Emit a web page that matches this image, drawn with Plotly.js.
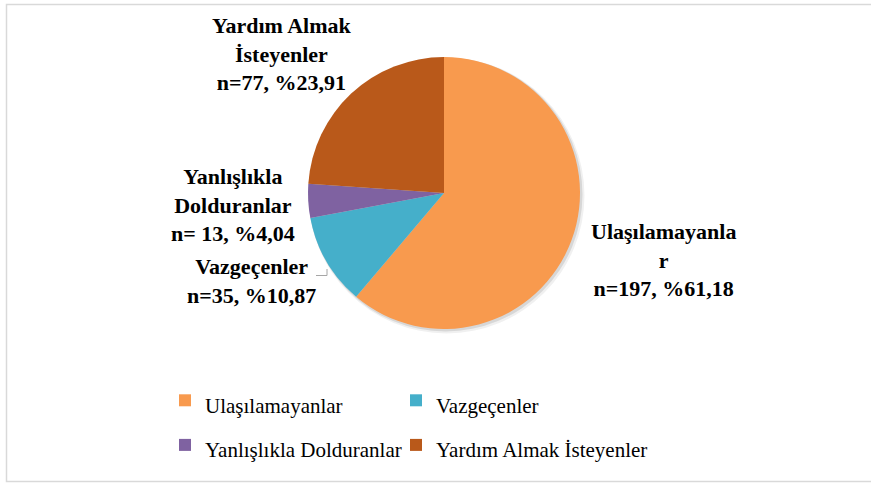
<!DOCTYPE html>
<html>
<head>
<meta charset="utf-8">
<script src="https://cdn.plot.ly/plotly-3.0.1.min.js"></script>
<style>html,body{margin:0;padding:0;background:#fff;}#chart{width:871px;height:484px;}</style>
</head>
<body>
<div id="chart"></div>
<script>
// ---- data ----
var categories = ["Ulaşılamayanlar", "Vazgeçenler", "Yanlışlıkla Dolduranlar", "Yardım Almak İsteyenler"];
var counts = [197, 35, 13, 77];
var percents = ["61,18", "10,87", "4,04", "23,91"];
// data label texts as wrapped in the original
var labelNames = ["Ulaşılamayanla<br>r", "Vazgeçenler", "Yanlışlıkla<br>Dolduranlar", "Yardım Almak<br>İsteyenler"];
var countPrefix = ["n=", "n=", "n= ", "n="];
var colors = ["#F89A4E", "#45AFCA", "#7F62A1", "#B9591A"];

// ---- layout helpers (pixel -> paper) ----
var W = 871, H = 484, ML = 150, MR = 150, MT = 0, MB = 0;
var GW = W - ML - MR, GH = H - MT - MB;
function fx(px) { return (px - ML) / GW; }
function fy(py) { return (H - MB - py) / GH; }

// label anchor positions (pixels, block centre)
var labelPos = [[663, 260], [251, 281], [233, 205], [282, 54]];

var annotations = categories.map(function (c, i) {
  return {
    xref: "paper", yref: "paper",
    x: fx(labelPos[i][0]), y: fy(labelPos[i][1]),
    xanchor: "center", yanchor: "middle", align: "center",
    showarrow: false,
    text: "<b>" + labelNames[i] + "<br>" + countPrefix[i] + counts[i] + ", %" + percents[i] + "</b>",
    font: {family: "Liberation Serif", size: 22, color: "#000"}
  };
});

var legendLabels = categories.map(function (c) {
  return '<span style="font-size:21px">' + c + '</span>';
});

var trace = {
  type: "pie",
  labels: legendLabels,
  values: counts,
  sort: false,
  direction: "clockwise",
  rotation: 0,
  textinfo: "none",
  hoverinfo: "none",
  marker: {colors: colors, line: {width: 0}},
  domain: {x: [fx(308), fx(580)], y: [fy(329), fy(57)]}
};

function circle(cx, cy, r, fill) {
  return {type: "circle", xref: "paper", yref: "paper",
    x0: fx(cx - r), x1: fx(cx + r), y0: fy(cy + r), y1: fy(cy - r),
    fillcolor: fill, line: {width: 0}, layer: "below"};
}

var layout = {
  width: W, height: H,
  margin: {l: ML, r: MR, t: MT, b: MB},
  paper_bgcolor: "#fff", plot_bgcolor: "rgba(0,0,0,0)",
  showlegend: true,
  legend: {
    orientation: "h",
    x: fx(165), xanchor: "left",
    y: fy(373), yanchor: "top",
    entrywidth: 186, entrywidthmode: "pixels",
    font: {family: "Liberation Serif", size: 32, color: "#000"},
    bgcolor: "rgba(0,0,0,0)"
  },
  annotations: annotations,
  shapes: [
    {type: "rect", xref: "paper", yref: "paper", x0: fx(6.5), x1: fx(880), y0: fy(4.5), y1: fy(481.5),
     line: {color: "#D9D9D9", width: 1.5}, fillcolor: "rgba(0,0,0,0)", layer: "below"},
    circle(446.5, 195.5, 138, "rgba(0,0,0,0.06)"),
    circle(445.5, 194.5, 137, "rgba(0,0,0,0.10)"),
    {type: "path", xref: "paper", yref: "paper",
     path: "M " + fx(316) + " " + fy(275.5) + " L " + fx(327) + " " + fy(275.5) + " L " + fx(327) + " " + fy(269),
     line: {color: "#A6A6A6", width: 1}}
  ]
};

Plotly.newPlot("chart", [trace], layout, {displayModeBar: false, staticPlot: true}).then(function (gd) {
  // let the long last legend entry show fully (Word-style legend has no clipping)
  gd.querySelectorAll(".legend .scrollbox").forEach(function (s) { s.removeAttribute("clip-path"); });
});
</script>
</body>
</html>
